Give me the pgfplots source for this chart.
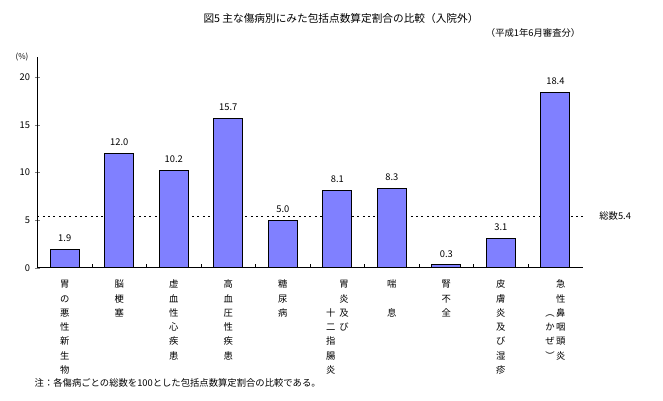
\documentclass[border=0pt]{standalone}
\usepackage{pgfplots}
\pgfplotsset{compat=1.18}
\usepackage{fontspec}
\setmainfont{Noto Sans CJK JP}
\definecolor{barblue}{RGB}{128,128,255}
\newcommand{\lbl}{\fontsize{7}{10.7}\selectfont}
\newcommand{\col}[1]{\begin{tabular}[t]{@{}c@{}}#1\end{tabular}}
\begin{document}
\begin{tikzpicture}[x=0.75pt,y=0.75pt]
\path[use as bounding box] (0,0) rectangle (663,400);
% titles
\node[font=\fontsize{8}{9}\selectfont] at (341,382) {図5\ 主な傷病別にみた包括点数算定割合の比較（入院外）};
\node[font=\fontsize{7}{8}\selectfont, anchor=east] at (585,367) {（平成1年6月審査分）};
\node[font=\fontsize{6}{7}\selectfont] at (22,343) {(\%)};
\node[font=\fontsize{7}{8}\selectfont, anchor=west] at (30,17) {注：各傷病ごとの総数を100とした包括点数算定割合の比較である。};
\begin{axis}[
    at={(28.1pt,99.2pt)}, anchor=south west,
    scale only axis,
    width=408.9pt, height=158pt,
    xmin=-0.5, xmax=9.5,
    ymin=0, ymax=22.1,
    axis x line*=bottom,
    axis y line*=left,
    clip=false,
    ytick={0,5,10,15,20},
    tick align=center,
    major tick length=4pt,
    xtick={0,...,9},
    xtick style={draw=none},
    /pgf/number format/assume math mode=true,
    y tick label style={font=\fontsize{7}{8}\selectfont},
    x tick label style={font=\lbl, align=center, anchor=north, yshift=-2pt},
    xticklabels={
        {\col{胃\\の\\悪\\性\\新\\生\\物}},
        {\col{脳\\梗\\塞}},
        {\col{虚\\血\\性\\心\\疾\\患}},
        {\col{高\\血\\圧\\性\\疾\\患}},
        {\col{糖\\尿\\病}},
        {\col{~\\~\\十\\二\\指\\腸\\炎}\hspace{3pt}\col{胃\\炎\\及\\び}},
        {\col{喘\\~\\息}},
        {\col{腎\\不\\全}},
        {\col{皮\\膚\\炎\\及\\び\\湿\\疹}},
        {\col{~\\~\\︵\\か\\ぜ\\︶}\hspace{1pt}\col{急\\性\\鼻\\咽\\頭\\炎}}
    },
]
\addplot[black, dash pattern=on 1.5pt off 2.5pt, forget plot] coordinates {(-0.5,5.4) (9.5,5.4)};
\addplot[ybar, bar width=21.75pt, fill=barblue, draw=black, line width=0.8pt,
    nodes near coords={\pgfmathprintnumber[fixed,fixed zerofill,precision=1]{\pgfplotspointmeta}},
    every node near coord/.append style={font=\fontsize{7}{8}\selectfont, black, yshift=2pt}]
    coordinates {(0,1.9) (1,12.0) (2,10.2) (3,15.7) (4,5.0) (5,8.1) (6,8.3) (7,0.3) (8,3.1) (9,18.4)};
\draw (axis cs:0.5,0) -- ([yshift=3pt]axis cs:0.5,0);
\draw (axis cs:1.5,0) -- ([yshift=3pt]axis cs:1.5,0);
\draw (axis cs:2.5,0) -- ([yshift=3pt]axis cs:2.5,0);
\draw (axis cs:3.5,0) -- ([yshift=3pt]axis cs:3.5,0);
\draw (axis cs:4.5,0) -- ([yshift=3pt]axis cs:4.5,0);
\draw (axis cs:5.5,0) -- ([yshift=3pt]axis cs:5.5,0);
\draw (axis cs:6.5,0) -- ([yshift=3pt]axis cs:6.5,0);
\draw (axis cs:7.5,0) -- ([yshift=3pt]axis cs:7.5,0);
\draw (axis cs:8.5,0) -- ([yshift=3pt]axis cs:8.5,0);
\node[anchor=west, font=\fontsize{7}{8}\selectfont] at ([xshift=9pt]axis cs:9.5,5.4) {総数5.4};
\end{axis}
\end{tikzpicture}
\end{document}
